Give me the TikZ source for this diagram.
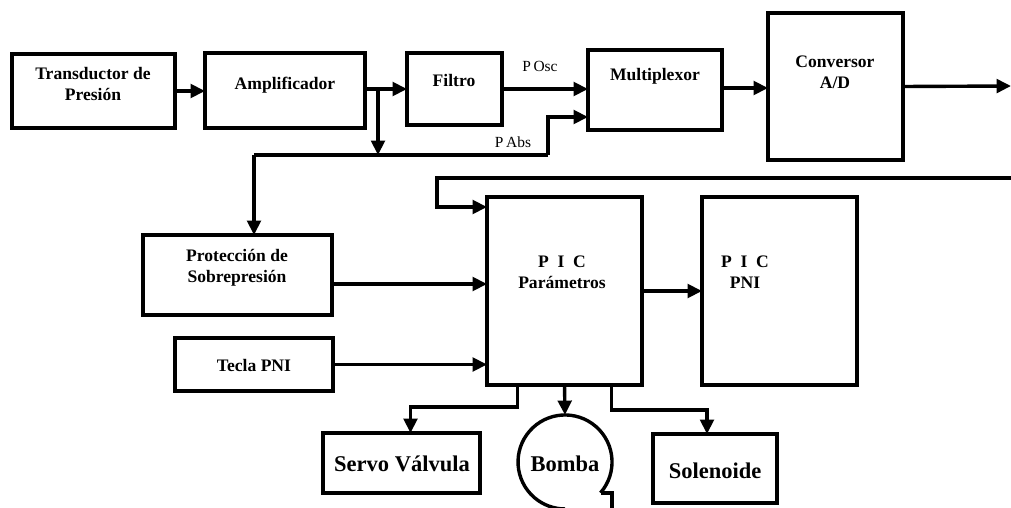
\documentclass[tikz,border=0pt]{standalone}
\usepackage{fontspec}
\setmainfont{Liberation Serif}
\usetikzlibrary{arrows.meta,calc}
\tikzset{
  box/.style={draw, line width=0.9mm, inner sep=0pt, outer sep=0pt},
  conn/.style={line width=0.85mm},
  arr/.style={conn, -{Triangle[length=3.6mm,width=3.4mm]}},
  lbl/.style={font=\fontsize{12.5}{15}\selectfont\bfseries, align=center, inner sep=0pt},
  big/.style={font=\fontsize{16}{18}\selectfont\bfseries, align=center, inner sep=0pt},
  sig/.style={font=\fontsize{11}{13}\selectfont, inner sep=0pt}
}
\begin{document}
\begin{tikzpicture}[x=0.25mm, y=-0.25mm]
\useasboundingbox (0,0) rectangle (1011,508);
% boxes
\node[box, minimum width=40.75mm, minimum height=18.5mm] (trans) at (93.5,91) {};
\node[box, minimum width=40mm, minimum height=18.75mm] (amp) at (285,90.5) {};
\node[box, minimum width=23.75mm, minimum height=18mm] (filtro) at (454.5,89) {};
\node[box, minimum width=33.5mm, minimum height=20mm] (mux) at (655,90) {};
\node[box, minimum width=33.75mm, minimum height=36.75mm] (conv) at (835.5,86.5) {};
\node[box, minimum width=47.25mm, minimum height=20mm] (prot) at (237.5,275) {};
\node[box, minimum width=39.5mm, minimum height=13.25mm] (tecla) at (254,364.5) {};
\node[box, minimum width=38.75mm, minimum height=47mm] (picp) at (564.5,291) {};
\node[box, minimum width=38.75mm, minimum height=47mm] (picpni) at (779.5,291) {};
\node[box, minimum width=39.25mm, minimum height=15mm] (servo) at (401.5,463) {};
\node[box, minimum width=31mm, minimum height=17.25mm] (sol) at (715,468.5) {};
\node[circle, minimum size=23.5mm, inner sep=0pt, outer sep=0pt] (bomba) at (565,462) {};
% labels
\node[lbl] (ttrans) at (93,84) {Transductor de\\Presión};
\node[lbl] (tamp) at (285,85) {Amplificador};
\node[lbl] (tfil) at (454,80) {Filtro};
\node[lbl] (tmux) at (655,76) {Multiplexor};
\node[lbl] (tconv) at (835,72) {Conversor\\A/D};
\node[lbl] (tprot) at (237,268) {Protección de\\Sobrepresión};
\node[lbl] (ttec) at (254,365) {Tecla PNI};
\node[lbl] (tpicp) at (562,272) {P\ \ I\ \ C\\Parámetros};
\node[lbl] (tpicn) at (745,272) {P\ \ I\ \ C\\PNI};
\node[big] (tservo) at (402,464) {Servo Válvula};
\node[big] (tbomba) at (565,464) {Bomba};
\node[big] (tsol) at (715,471) {Solenoide};
\node[sig] (posc) at (540,66) {P\,Osc};
\node[sig] (pabs) at (513,142) {P\,Abs};
% bomba outline
\draw[conn] ($(bomba.center)+(35.5,30.8)$) arc[start angle=-41, end angle=270, radius=11.75mm];
\draw[conn] ($(bomba.center)+(35.5,30.8)$) -- ($(bomba.center)+(47,30.8)$) -- ($(bomba.center)+(47,50)$);
% coordinates
\coordinate (br) at (378,89);
\coordinate (j) at (254,155);
\coordinate (k) at (548,155);
\coordinate (out) at (1011,86);
\coordinate (fb) at (1011,178);
\coordinate (mo) at ($(mux.east)+(0,-2)$);
\coordinate (mi) at ($(mux.west)+(0,27)$);
\coordinate (po) at ($(prot.east)+(0,9)$);
\coordinate (fbc) at ($(picp.north west)+(-50,10)$);
\coordinate (fbi) at ($(picp.north west)+(0,10)$);
\coordinate (s1) at ($(picp.south)+(-47,0)$);
\coordinate (s3) at ($(picp.south)+(47,0)$);
\coordinate (sv) at ($(servo.north)+(9,0)$);
\coordinate (so) at ($(sol.north)+(-8,0)$);
% connectors
\draw[arr] (trans.east) -- (trans.east -| amp.west);
\draw[arr] (amp.east |- br) -- (br -| filtro.west);
\draw[arr] (br) -- (br |- j);
\draw[conn] (j) -- (k);
\draw[arr] (k) -- (k |- mi) -- (mi);
\draw[arr] (j) -- (j |- prot.north);
\draw[arr] (filtro.east) -- (filtro.east -| mux.west);
\draw[arr] (mo) -- (mo -| conv.west);
\draw[arr] (conv.east) -- (out);
\draw[arr] (fb) -| (fbc) -- (fbi);
\draw[arr] (po) -- (po -| picp.west);
\draw[arr] (tecla.east) -- (tecla.east -| picp.west);
\draw[arr] (picp.east) -- (picpni.west);
\draw[arr] (s1) -- ++(0,22) -| (sv);
\draw[arr] (picp.south) -- (bomba.north);
\draw[arr] (s3) -- ++(0,25) -| (so);
\end{tikzpicture}
\end{document}
